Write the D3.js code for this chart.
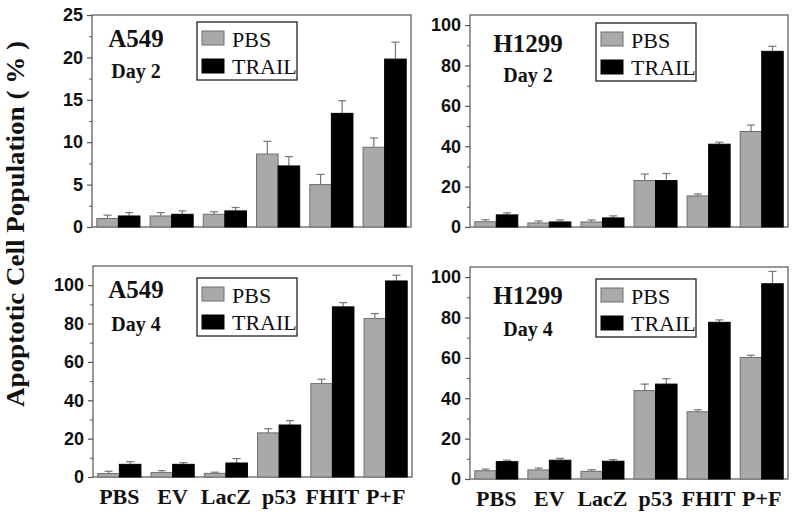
<!DOCTYPE html>
<html><head><meta charset="utf-8">
<script src="https://cdn.jsdelivr.net/npm/d3@7"></script>
<style>body{margin:0;background:#fff}</style>
</head><body>
<svg id="c" width="800" height="518"></svg>
<script>
// ---------- data ----------
const categories = ["PBS", "EV", "LacZ", "p53", "FHIT", "P+F"];
const seriesNames = ["PBS", "TRAIL"];

const a549Day2PBS = [1.0, 1.3, 1.5, 8.6, 5.0, 9.4];
const a549Day2PBSErr = [0.4, 0.4, 0.3, 1.5, 1.2, 1.1];
const a549Day2TRAIL = [1.3, 1.5, 1.9, 7.2, 13.4, 19.8];
const a549Day2TRAILErr = [0.4, 0.4, 0.4, 1.1, 1.5, 2.0];

const h1299Day2PBS = [2.6, 2.0, 2.5, 23, 15.4, 47.3];
const h1299Day2PBSErr = [1.0, 1.0, 1.0, 3.2, 1.0, 3.2];
const h1299Day2TRAIL = [6.0, 2.5, 4.5, 23, 41, 87];
const h1299Day2TRAILErr = [1.0, 1.0, 1.0, 3.5, 1.0, 2.5];

const a549Day4PBS = [1.8, 2.3, 1.9, 23, 48.7, 82.6];
const a549Day4PBSErr = [1.2, 1.0, 0.6, 2.2, 2.3, 2.6];
const a549Day4TRAIL = [6.6, 6.6, 7.3, 27.1, 88.7, 102.2];
const a549Day4TRAILErr = [1.4, 0.9, 2.3, 2.3, 2.2, 3.0];

const h1299Day4PBS = [4.1, 4.5, 3.8, 43.8, 33.3, 60.2];
const h1299Day4PBSErr = [0.8, 0.9, 0.8, 3.2, 1.0, 1.1];
const h1299Day4TRAIL = [8.6, 9.3, 8.8, 47, 77.6, 96.7];
const h1299Day4TRAILErr = [0.7, 0.9, 0.8, 2.7, 1.2, 6.1];

const yTicks25 = [0, 5, 10, 15, 20, 25];
const yTicks100 = [0, 20, 40, 60, 80, 100];
const yTitle = "Apoptotic Cell Population ( % )";

// ---------- layout ----------
const panels = [
  {cell: "A549", day: "Day 2", pbs: a549Day2PBS, pbsErr: a549Day2PBSErr, trail: a549Day2TRAIL, trailErr: a549Day2TRAILErr,
   ymax: 25, ticks: yTicks25, minor: 2.5, x0: 92, x1: 411, y0: 15, y1: 227, legend: [197, 22], label: [136, 47, 78], xlabels: false},
  {cell: "H1299", day: "Day 2", pbs: h1299Day2PBS, pbsErr: h1299Day2PBSErr, trail: h1299Day2TRAIL, trailErr: h1299Day2TRAILErr,
   ymax: 105, ticks: yTicks100, minor: 10, x0: 470, x1: 788, y0: 15, y1: 227, legend: [596, 23], label: [528, 52, 82], xlabels: false},
  {cell: "A549", day: "Day 4", pbs: a549Day4PBS, pbsErr: a549Day4PBSErr, trail: a549Day4TRAIL, trailErr: a549Day4TRAILErr,
   ymax: 110, ticks: yTicks100, minor: 10, x0: 93, x1: 412, y0: 266, y1: 477, legend: [197, 278], label: [136, 298, 331], xlabels: true},
  {cell: "H1299", day: "Day 4", pbs: h1299Day4PBS, pbsErr: h1299Day4PBSErr, trail: h1299Day4TRAIL, trailErr: h1299Day4TRAILErr,
   ymax: 105, ticks: yTicks100, minor: 10, x0: 470, x1: 788, y0: 267, y1: 479, legend: [596, 279], label: [528, 304, 336], xlabels: true}
];

const GRAY = "#a9a9a9", BLACK = "#000", FRAME = "#555";
const serif = "'Liberation Serif','Times New Roman',Times,'DejaVu Serif',serif";
const sans = "'Liberation Sans',Arial,Helvetica,sans-serif";

const svg = d3.select("#c");

panels.forEach(p => {
  const g = svg.append("g");
  const x = d3.scaleBand().domain(categories).range([p.x0, p.x1]).paddingInner(0.19).paddingOuter(0.09);
  const xs = d3.scaleBand().domain(seriesNames).range([0, x.bandwidth()]);
  const y = d3.scaleLinear().domain([0, p.ymax]).range([p.y1, p.y0]);

  // frame
  g.append("rect").attr("x", p.x0).attr("y", p.y0).attr("width", p.x1 - p.x0).attr("height", p.y1 - p.y0)
    .attr("fill", "none").attr("stroke", FRAME).attr("stroke-width", 1.2);

  // y axis
  const ax = g.append("g").attr("transform", `translate(${p.x0},0)`)
    .call(d3.axisLeft(y).tickValues(p.ticks).tickSize(5).tickPadding(4).tickFormat(d3.format("d")));
  ax.select(".domain").remove();
  ax.selectAll(".tick line").attr("stroke", FRAME).attr("stroke-width", 1.2);
  ax.selectAll(".tick text").attr("font-family", sans).attr("font-weight", "bold").attr("font-size", 18).attr("fill", "#111");
  const minorVals = d3.range(p.minor, p.ymax, p.minor * 2).filter(v => !p.ticks.includes(v));
  const axm = g.append("g").attr("transform", `translate(${p.x0},0)`)
    .call(d3.axisLeft(y).tickValues(minorVals).tickSize(3).tickFormat(""));
  axm.select(".domain").remove();
  axm.selectAll(".tick line").attr("stroke", FRAME).attr("stroke-width", 1);

  const rows = categories.map((c, i) => [
    {cat: c, s: "PBS", v: p.pbs[i], e: p.pbsErr[i]},
    {cat: c, s: "TRAIL", v: p.trail[i], e: p.trailErr[i]}
  ]).flat();

  // error bars (upward only)
  const eb = g.append("g");
  rows.forEach(r => {
    const cx = x(r.cat) + xs(r.s) + xs.bandwidth() / 2;
    eb.append("line").attr("x1", cx).attr("x2", cx).attr("y1", y(r.v)).attr("y2", y(r.v + r.e))
      .attr("stroke", "#777").attr("stroke-width", 1.2);
    eb.append("line").attr("x1", cx - 4).attr("x2", cx + 4).attr("y1", y(r.v + r.e)).attr("y2", y(r.v + r.e))
      .attr("stroke", "#777").attr("stroke-width", 1.2);
  });

  // bars
  g.append("g").selectAll("rect").data(rows).join("rect")
    .attr("x", d => x(d.cat) + xs(d.s))
    .attr("y", d => y(d.v))
    .attr("width", xs.bandwidth())
    .attr("height", d => y(0) - y(d.v))
    .attr("fill", d => d.s === "PBS" ? GRAY : BLACK)
    .attr("stroke", d => d.s === "PBS" ? "#6e6e6e" : BLACK)
    .attr("stroke-width", 1);

  // panel labels
  g.append("text").attr("x", p.label[0]).attr("y", p.label[1]).attr("text-anchor", "middle")
    .attr("font-family", serif).attr("font-weight", "bold").attr("font-size", 25).attr("fill", "#111").text(p.cell);
  g.append("text").attr("x", p.label[0]).attr("y", p.label[2]).attr("text-anchor", "middle")
    .attr("font-family", serif).attr("font-weight", "bold").attr("font-size", 20).attr("fill", "#111").text(p.day);

  // legend
  const [lx, ly] = p.legend;
  const lg = g.append("g");
  lg.append("rect").attr("x", lx).attr("y", ly).attr("width", 100).attr("height", 58)
    .attr("fill", "#fff").attr("stroke", "#222").attr("stroke-width", 1.3);
  seriesNames.forEach((s, i) => {
    lg.append("rect").attr("x", lx + 5).attr("y", ly + 9 + i * 28).attr("width", 22).attr("height", 14)
      .attr("fill", s === "PBS" ? GRAY : BLACK).attr("stroke", s === "PBS" ? "#6e6e6e" : BLACK);
    lg.append("text").attr("x", lx + 35).attr("y", ly + 25 + i * 27)
      .attr("font-family", serif).attr("font-weight", "normal").attr("font-size", 22).attr("fill", "#111").text(s);
  });

  // x labels
  if (p.xlabels) {
    g.append("g").selectAll("text").data(categories).join("text")
      .attr("x", d => x(d) + x.bandwidth() / 2).attr("y", p.y1 + 27).attr("text-anchor", "middle")
      .attr("font-family", serif).attr("font-weight", "bold").attr("font-size", 22).attr("fill", "#111").text(d => d);
  }
});

// y title
svg.append("text").attr("transform", "translate(24,224) rotate(-90)").attr("text-anchor", "middle")
  .attr("font-family", serif).attr("font-weight", "bold").attr("font-size", 25)
  .attr("textLength", 366).attr("lengthAdjust", "spacingAndGlyphs")
  .attr("fill", "#111").text(yTitle);
</script>
</body></html>
